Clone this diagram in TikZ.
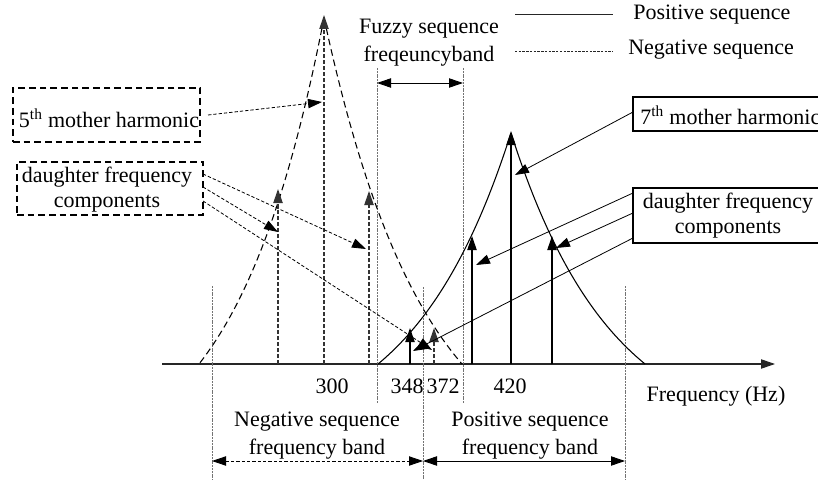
\documentclass[tikz,border=0pt]{standalone}
\usepackage{fontspec}
\setmainfont{Liberation Serif}
\usetikzlibrary{arrows.meta}
\begin{document}
\begin{tikzpicture}[x=0.75pt,y=-0.75pt,
  every node/.style={font=\fontsize{16.5}{21}\selectfont, inner sep=0pt, text=black},
  tip/.style={-{Triangle[length=10.5pt,width=7pt]}},
  tips/.style={{Triangle[length=10.5pt,width=7pt]}-{Triangle[length=10.5pt,width=7pt]}},
  guide/.style={draw=black!55, line width=0.6pt, dash pattern=on 1.5pt off 0.6pt},
  negcurve/.style={line width=0.8pt, dash pattern=on 5pt off 3pt},
  poscurve/.style={line width=0.8pt},
  negline/.style={draw=black!80, line width=0.9pt, dash pattern=on 3pt off 1.5pt},
  posline/.style={draw=black, line width=0.8pt},
  conn/.style={line width=0.6pt},
  dconn/.style={line width=0.6pt, dash pattern=on 2.5pt off 1.5pt},
  dbox/.style={draw, line width=0.9pt, dash pattern=on 5pt off 3pt},
  sbox/.style={draw, line width=0.8pt}
]
\useasboundingbox (0,0) rectangle (818,485);
\clip (0,0) rectangle (818,485);

% ---- axis ----
\coordinate (ax0) at (162,364);
\coordinate (ax1) at (775,364);
\draw[line width=0.8pt, draw=black!85, tip] (ax0) -- (ax1);

% ---- guide lines ----
\coordinate (g1t) at (212,286); \coordinate (g1b) at (212,480);
\coordinate (g2t) at (423,287); \coordinate (g2b) at (423,480);
\coordinate (g3t) at (625,286); \coordinate (g3b) at (625,480);
\coordinate (f1t) at (377,68);  \coordinate (f1b) at (377,403);
\coordinate (f2t) at (463,68);  \coordinate (f2b) at (463,403);
\draw[guide] (g1t) -- (g1b);
\draw[guide] (g2t) -- (g2b);
\draw[guide] (g3t) -- (g3b);
\draw[guide] (f1t) -- (f1b);
\draw[guide] (f2t) -- (f2b);

% ---- band arrows ----
\coordinate (nb0) at (212,461); \coordinate (nb1) at (423,461);
\coordinate (pb1) at (625,461);
\coordinate (fz0) at (377,83);  \coordinate (fz1) at (463,83);
\draw[tips, line width=0.6pt, dash pattern=on 2.5pt off 1.5pt] (nb0) -- (nb1);
\draw[tips, line width=0.7pt] (nb1) -- (pb1);
\draw[tips, line width=0.7pt] (fz0) -- (fz1);

% ---- negative sequence curve (dashed) ----
\draw[negcurve] plot[domain=0:125, samples=60] ({324-\x}, {364-(461.0*exp(-\x/90)-115.0)});
\draw[negcurve] plot[domain=0:138, samples=60] ({324+\x}, {364-(462.3*exp(-\x/100)-116.3)});
% ---- positive sequence curve (solid) ----
\draw[poscurve] plot[domain=0:133, samples=60] ({511-\x}, {364-(314.1*exp(-\x/100)-83.1)});
\draw[poscurve] plot[domain=0:134, samples=60] ({511+\x}, {364-(312.9*exp(-\x/100)-81.9)});

% ---- spectral lines ----
\coordinate (n300b) at (324,364); \coordinate (n300t) at (324,15);
\coordinate (n1b) at (278,364);   \coordinate (n1t) at (278,189);
\coordinate (n2b) at (369,364);   \coordinate (n2t) at (369,191);
\coordinate (n3b) at (434,364);   \coordinate (n3t) at (434,328);
\draw[negline, tip] (n300b) -- (n300t);
\draw[negline, tip] (n1b) -- (n1t);
\draw[negline, tip] (n2b) -- (n2t);
\draw[negline, tip] (n3b) -- (n3t);
\coordinate (p420b) at (511,364); \coordinate (p420t) at (511,131);
\coordinate (p1b) at (472,364);   \coordinate (p1t) at (472,236);
\coordinate (p2b) at (552,364);   \coordinate (p2t) at (552,236);
\coordinate (p3b) at (410,364);   \coordinate (p3t) at (410,328);
\draw[posline, tip] (p420b) -- (p420t);
\draw[posline, tip] (p1b) -- (p1t);
\draw[posline, tip] (p2b) -- (p2t);
\draw[posline, tip] (p3b) -- (p3t);

% ---- axis labels ----
\node (l300) at (332,386) {300};
\node (l348) at (407,386) {348};
\node (l372) at (443,386) {372};
\node (l420) at (510,386) {420};
\node (lfreq) at (716,396) {Frequency (Hz)};
\node[align=center] (lneg) at (317,436) {Negative sequence\\frequency band};
\node[align=center] (lpos) at (530,436) {Positive sequence\\frequency band};
\node[align=center] (lfuz) at (429,43) {Fuzzy sequence\\freqeuncyband};

% ---- legend ----
\coordinate (lg1a) at (515,14); \coordinate (lg1b) at (613,14);
\coordinate (lg2a) at (515,51); \coordinate (lg2b) at (613,51);
\draw[line width=0.7pt, draw=black!85] (lg1a) -- (lg1b);
\draw[line width=0.6pt, draw=black!85, dash pattern=on 1.8pt off 1pt] (lg2a) -- (lg2b);
\node[anchor=west] (lgpos) at (633,15) {Positive sequence};
\node[anchor=west] (lgneg) at (628,50) {Negative sequence};

% ---- label boxes ----
\node[dbox, minimum width=140.25pt, minimum height=40.5pt] (b5) at (106.5,115) {};
\node (t5) at (109,118) {5\textsuperscript{th} mother harmonic};
\node[dbox, minimum width=139.5pt, minimum height=39.75pt] (bd) at (110,188.5) {};
\node[align=center, font=\fontsize{16.5}{18.75}\selectfont] (td) at (107,190) {daughter frequency\\components};
\node[sbox, minimum width=147.75pt, minimum height=25.5pt] (b7) at (731.5,114) {};
\node[anchor=west] (t7) at (640,115) {7\textsuperscript{th} mother harmonic};
\node[sbox, minimum width=147.75pt, minimum height=41.25pt] (bdr) at (731.5,215.5) {};
\node[align=center, font=\fontsize{16.5}{18.75}\selectfont] (tdr) at (728,215.5) {daughter frequency\\components};

% ---- connectors ----
\coordinate (c5s) at (208,115);   \coordinate (c5e) at (322,102);
\draw[dconn, tip] (c5s) -- (c5e);
\coordinate (cd1s) at (203,174);  \coordinate (cd1e) at (366,249);
\coordinate (cd2s) at (203,187);  \coordinate (cd2e) at (278,232);
\coordinate (cd3s) at (203,201);  \coordinate (cd3e) at (432,350);
\draw[dconn, tip] (cd1s) -- (cd1e);
\draw[dconn, tip] (cd2s) -- (cd2e);
\draw[dconn, tip] (cd3s) -- (cd3e);
\coordinate (c7s) at (633,112);   \coordinate (c7e) at (515,175);
\draw[conn, tip] (c7s) -- (c7e);
\coordinate (cr1s) at (633,193);  \coordinate (cr1e) at (476,265);
\coordinate (cr2s) at (633,213);  \coordinate (cr2e) at (556,248);
\coordinate (cr3s) at (633,238);  \coordinate (cr3e) at (413,351);
\draw[conn, tip] (cr1s) -- (cr1e);
\draw[conn, tip] (cr2s) -- (cr2e);
\draw[conn, tip] (cr3s) -- (cr3e);
\end{tikzpicture}
\end{document}
